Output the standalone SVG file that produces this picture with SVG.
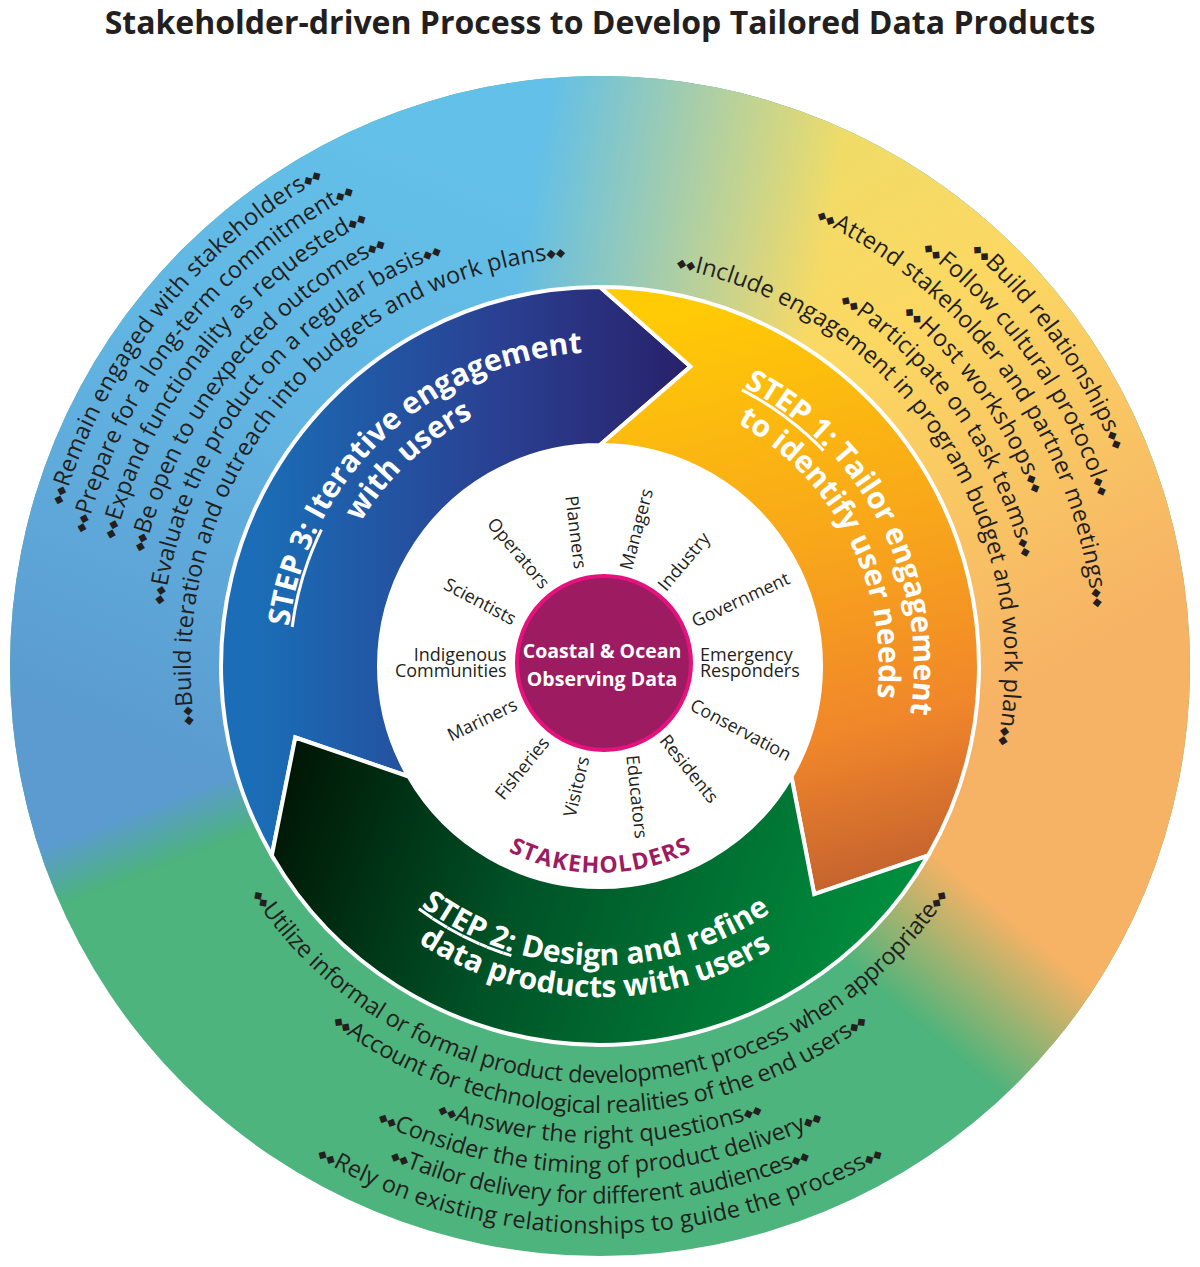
<svg xmlns="http://www.w3.org/2000/svg" width="1200" height="1267" viewBox="0 0 1200 1267">
<style>
.t{font-family:"Open Sans","Liberation Sans",sans-serif;font-size:23.5px;fill:#231f20}
.b{font-family:"DejaVu Sans",sans-serif;font-size:12px}
.st{font-family:"Open Sans","Liberation Sans",sans-serif;font-weight:700;font-size:30px;fill:#fff}
.lab{font-family:"Open Sans","Liberation Sans",sans-serif;font-size:18px;fill:#231f20}
.arrow{stroke:#fff;stroke-width:4;stroke-linejoin:miter}
</style>
<defs>
<linearGradient id="gBlue" gradientUnits="userSpaceOnUse" x1="400" y1="150" x2="150" y2="750"><stop offset="0" stop-color="#63c0e8"/><stop offset="0.45" stop-color="#61b4e2"/><stop offset="1" stop-color="#5b9bcf"/></linearGradient>
<linearGradient id="gYel" gradientUnits="userSpaceOnUse" x1="800" y1="150" x2="1100" y2="650"><stop offset="0" stop-color="#efdc68"/><stop offset="0.35" stop-color="#fcd862"/><stop offset="1" stop-color="#f6b265"/></linearGradient>
<linearGradient id="gmBlue" gradientUnits="userSpaceOnUse" x1="610.8" y1="694" x2="589.2" y2="638"><stop offset="0" stop-color="#000"/><stop offset="1" stop-color="#fff"/></linearGradient>
<linearGradient id="gmY1" gradientUnits="userSpaceOnUse" x1="555" y1="719.6" x2="645" y2="612.4"><stop offset="0" stop-color="#000"/><stop offset="1" stop-color="#fff"/></linearGradient>
<linearGradient id="gmY2" gradientUnits="userSpaceOnUse" x1="452.3" y1="640" x2="747.7" y2="692"><stop offset="0" stop-color="#000"/><stop offset="1" stop-color="#fff"/></linearGradient>
<mask id="mBlue" maskUnits="userSpaceOnUse" x="0" y="0" width="1200" height="1267"><rect width="1200" height="1267" fill="url(#gmBlue)"/></mask>
<mask id="mY1" maskUnits="userSpaceOnUse" x="0" y="0" width="1200" height="1267"><rect width="1200" height="1267" fill="url(#gmY1)"/></mask>
<mask id="mY2" maskUnits="userSpaceOnUse" x="0" y="0" width="1200" height="1267"><rect width="1200" height="1267" fill="url(#gmY2)"/></mask>
<linearGradient id="gStep3" gradientUnits="userSpaceOnUse" x1="260" y1="600" x2="690" y2="600"><stop offset="0" stop-color="#1a6db6"/><stop offset="0.55" stop-color="#2a4092"/><stop offset="1" stop-color="#28216a"/></linearGradient>
<linearGradient id="gStep1" gradientUnits="userSpaceOnUse" x1="700" y1="300" x2="850" y2="890"><stop offset="0" stop-color="#ffcb05"/><stop offset="0.45" stop-color="#f8a51b"/><stop offset="0.75" stop-color="#f0862a"/><stop offset="1" stop-color="#c4622f"/></linearGradient>
<linearGradient id="gStep2" gradientUnits="userSpaceOnUse" x1="300" y1="740" x2="900" y2="960"><stop offset="0" stop-color="#001705"/><stop offset="0.4" stop-color="#005227"/><stop offset="1" stop-color="#00923f"/></linearGradient>
<path id="p1a" d="M213.8,1072.9 A561,561 0 0 1 909.6,198.2"/>
<path id="p1b" d="M234.5,1051.2 A531,531 0 0 1 893.1,223.2"/>
<path id="p1c" d="M255.1,1029.4 A501,501 0 0 1 876.5,248.2"/>
<path id="p1d" d="M276.5,1006.9 A470,470 0 0 1 859.4,274.1"/>
<path id="p1e" d="M297.1,985.2 A440,440 0 0 1 842.8,299.1"/>
<path id="p1f" d="M318.4,962.7 A409,409 0 0 1 825.7,324.9"/>
<path id="p2a" d="M317.3,186.1 A557,557 0 0 1 961.7,1089.5"/>
<path id="p2b" d="M333.1,212.8 A526,526 0 0 1 941.6,1066"/>
<path id="p2c" d="M348.3,238.6 A496,496 0 0 1 922.1,1043.2"/>
<path id="p2d" d="M364,265.4 A465,465 0 0 1 902,1019.6"/>
<path id="p2e" d="M379.2,291.2 A435,435 0 0 1 882.5,996.8"/>
<path id="p2f" d="M403.7,311.8 A405,405 0 0 1 854.9,980.7"/>
<path id="p3a" d="M184.6,702.4 A417,417 0 0 0 1015.4,702.4"/>
<path id="p3b" d="M154.7,705 A447,447 0 0 0 1045.3,705"/>
<path id="p3c" d="M124.8,707.6 A477,477 0 0 0 1075.2,707.6"/>
<path id="p3d" d="M94.9,710.2 A507,507 0 0 0 1105.1,710.2"/>
<path id="p3e" d="M65,712.8 A537,537 0 0 0 1135,712.8"/>
<path id="p3f" d="M35.1,715.4 A567,567 0 0 0 1164.9,715.4"/>
<path id="s3a" d="M352.6,859.3 A314,314 0 0 1 810.1,432.7"/>
<path id="s3b" d="M380.1,837.8 A279,279 0 0 1 786.7,458.7"/>
<path id="s1a" d="M482.4,374.9 A314,314 0 0 1 766.4,932.3"/>
<path id="s1b" d="M495.5,407.3 A279,279 0 0 1 747.8,902.6"/>
<path id="s2a" d="M301.7,686.9 A299,299 0 0 0 897.4,697.2"/>
<path id="s2b" d="M269.8,689.1 A331,331 0 0 0 929.2,700.6"/>
<path id="stk" d="M393.8,684.1 A207,207 0 0 0 806.2,684.1"/>
</defs>
<rect width="1200" height="1267" fill="#fff"/>
<text x="600" y="34" text-anchor="middle" font-family="'Open Sans','Liberation Sans',sans-serif" font-weight="700" font-size="32" fill="#231f20">Stakeholder-driven Process to Develop Tailored Data Products</text>

<g id="outer-ring">
<circle cx="600" cy="666" r="590" fill="#4cb47c"/>
<circle cx="600" cy="666" r="590" fill="url(#gBlue)" mask="url(#mBlue)"/>
<g mask="url(#mY1)"><circle cx="600" cy="666" r="590" fill="url(#gYel)" mask="url(#mY2)"/></g>
</g>

<g id="step3-actions">
<text class="t" text-anchor="middle"><textPath href="#p1a" startOffset="50%" textLength="429"><tspan class="b" dy="-2">◆◆</tspan><tspan dy="2">Remain engaged with stakeholders</tspan><tspan class="b" dy="-2">◆◆</tspan></textPath></text>
<text class="t" text-anchor="middle"><textPath href="#p1b" startOffset="50%" textLength="446"><tspan class="b" dy="-2">◆◆</tspan><tspan dy="2">Prepare for a long-term commitment</tspan><tspan class="b" dy="-2">◆◆</tspan></textPath></text>
<text class="t" text-anchor="middle"><textPath href="#p1c" startOffset="50%" textLength="418"><tspan class="b" dy="-2">◆◆</tspan><tspan dy="2">Expand functionality as requested</tspan><tspan class="b" dy="-2">◆◆</tspan></textPath></text>
<text class="t" text-anchor="middle"><textPath href="#p1d" startOffset="50%" textLength="402"><tspan class="b" dy="-2">◆◆</tspan><tspan dy="2">Be open to unexpected outcomes</tspan><tspan class="b" dy="-2">◆◆</tspan></textPath></text>
<text class="t" text-anchor="middle"><textPath href="#p1e" startOffset="50%" textLength="469"><tspan class="b" dy="-2">◆◆</tspan><tspan dy="2">Evaluate the product on a regular basis</tspan><tspan class="b" dy="-2">◆◆</tspan></textPath></text>
<text class="t" text-anchor="middle"><textPath href="#p1f" startOffset="50%" textLength="667"><tspan class="b" dy="-2">◆◆</tspan><tspan dy="2">Build iteration and outreach into budgets and work plans</tspan><tspan class="b" dy="-2">◆◆</tspan></textPath></text>
</g>

<g id="step1-actions">
<text class="t" text-anchor="middle"><textPath href="#p2a" startOffset="50%" textLength="248"><tspan class="b" dy="-2">◆◆</tspan><tspan dy="2">Build relationships</tspan><tspan class="b" dy="-2">◆◆</tspan></textPath></text>
<text class="t" text-anchor="middle"><textPath href="#p2b" startOffset="50%" textLength="308"><tspan class="b" dy="-2">◆◆</tspan><tspan dy="2">Follow cultural protocol</tspan><tspan class="b" dy="-2">◆◆</tspan></textPath></text>
<text class="t" text-anchor="middle"><textPath href="#p2c" startOffset="50%" textLength="498"><tspan class="b" dy="-2">◆◆</tspan><tspan dy="2">Attend stakeholder and partner meetings</tspan><tspan class="b" dy="-2">◆◆</tspan></textPath></text>
<text class="t" text-anchor="middle"><textPath href="#p2d" startOffset="50%" textLength="225"><tspan class="b" dy="-2">◆◆</tspan><tspan dy="2">Host workshops</tspan><tspan class="b" dy="-2">◆◆</tspan></textPath></text>
<text class="t" text-anchor="middle"><textPath href="#p2e" startOffset="50%" textLength="321"><tspan class="b" dy="-2">◆◆</tspan><tspan dy="2">Participate on task teams</tspan><tspan class="b" dy="-2">◆◆</tspan></textPath></text>
<text class="t" text-anchor="middle"><textPath href="#p2f" startOffset="50%" textLength="638"><tspan class="b" dy="-2">◆◆</tspan><tspan dy="2">Include engagement in program budget and work plan</tspan><tspan class="b" dy="-2">◆◆</tspan></textPath></text>
</g>

<g id="step2-actions">
<text class="t" text-anchor="middle"><textPath href="#p3a" startOffset="50%" textLength="825"><tspan class="b" dy="-2">◆◆</tspan><tspan dy="2">Utilize informal or formal product development process when appropriate</tspan><tspan class="b" dy="-2">◆◆</tspan></textPath></text>
<text class="t" text-anchor="middle"><textPath href="#p3b" startOffset="50%" textLength="575"><tspan class="b" dy="-2">◆◆</tspan><tspan dy="2">Account for technological realities of the end users</tspan><tspan class="b" dy="-2">◆◆</tspan></textPath></text>
<text class="t" text-anchor="middle"><textPath href="#p3c" startOffset="50%" textLength="333"><tspan class="b" dy="-2">◆◆</tspan><tspan dy="2">Answer the right questions</tspan><tspan class="b" dy="-2">◆◆</tspan></textPath></text>
<text class="t" text-anchor="middle"><textPath href="#p3d" startOffset="50%" textLength="462"><tspan class="b" dy="-2">◆◆</tspan><tspan dy="2">Consider the timing of product delivery</tspan><tspan class="b" dy="-2">◆◆</tspan></textPath></text>
<text class="t" text-anchor="middle"><textPath href="#p3e" startOffset="50%" textLength="433"><tspan class="b" dy="-2">◆◆</tspan><tspan dy="2">Tailor delivery for different audiences</tspan><tspan class="b" dy="-2">◆◆</tspan></textPath></text>
<text class="t" text-anchor="middle"><textPath href="#p3f" startOffset="50%" textLength="595"><tspan class="b" dy="-2">◆◆</tspan><tspan dy="2">Rely on existing relationships to guide the process</tspan><tspan class="b" dy="-2">◆◆</tspan></textPath></text>
</g>

<g id="step3">
<path class="arrow" fill="url(#gStep3)" d="M271.8,855.5 A379,379 0 0 1 600,287 L690.5,366.4 L600,445 A221,221 0 0 0 408.6,776.5 L295.3,737.5 Z"/>
<text class="st" text-anchor="middle"><textPath href="#s3a" startOffset="50%"><tspan text-decoration="underline">STEP 3:</tspan> Iterative engagement</textPath></text>
<text class="st" text-anchor="middle"><textPath href="#s3b" startOffset="50%">with users</textPath></text>
</g>
<g id="step1">
<path class="arrow" fill="url(#gStep1)" d="M600,287 A379,379 0 0 1 928.2,855.5 L814.2,894.2 L791.4,776.5 A221,221 0 0 0 600,445 L690.5,366.4 Z"/>
<text class="st" text-anchor="middle"><textPath href="#s1a" startOffset="50%"><tspan text-decoration="underline">STEP 1:</tspan> Tailor engagement</textPath></text>
<text class="st" text-anchor="middle"><textPath href="#s1b" startOffset="50%">to identify user needs</textPath></text>
</g>
<g id="step2">
<path class="arrow" fill="url(#gStep2)" d="M928.2,855.5 A379,379 0 0 1 271.8,855.5 L295.3,737.5 L408.6,776.5 A221,221 0 0 0 791.4,776.5 L814.2,894.2 Z"/>
<text class="st" text-anchor="middle"><textPath href="#s2a" startOffset="50%"><tspan text-decoration="underline">STEP 2:</tspan> Design and refine</textPath></text>
<text class="st" text-anchor="middle"><textPath href="#s2b" startOffset="50%">data products with users</textPath></text>
</g>

<g id="stakeholders">
<circle cx="600" cy="666" r="221" fill="#fff"/>
<text class="lab" text-anchor="middle" dy="6" transform="translate(518.3,553.3) rotate(50)">Operators</text>
<text class="lab" text-anchor="middle" dy="6" transform="translate(575.7,532.3) rotate(83)">Planners</text>
<text class="lab" text-anchor="middle" dy="6" transform="translate(636.7,529.3) rotate(-75)">Managers</text>
<text class="lab" text-anchor="middle" dy="6" transform="translate(684,561.7) rotate(-50)">Industry</text>
<text class="lab" text-anchor="middle" dy="6" transform="translate(740.7,600) rotate(-25)">Government</text>
<text class="lab" x="700" y="660.5">Emergency</text>
<text class="lab" x="700" y="677.3">Responders</text>
<text class="lab" text-anchor="middle" dy="6" transform="translate(740.7,730) rotate(28)">Conservation</text>
<text class="lab" text-anchor="middle" dy="6" transform="translate(689,769) rotate(51)">Residents</text>
<text class="lab" text-anchor="middle" dy="6" transform="translate(636.7,796.7) rotate(84)">Educators</text>
<text class="lab" text-anchor="middle" dy="6" transform="translate(576.7,786.7) rotate(-77)">Visitors</text>
<text class="lab" text-anchor="middle" dy="6" transform="translate(522.3,768.3) rotate(-51)">Fisheries</text>
<text class="lab" text-anchor="middle" dy="6" transform="translate(482.3,720) rotate(-26)">Mariners</text>
<text class="lab" x="506.7" y="660.5" text-anchor="end">Indigenous</text>
<text class="lab" x="506.7" y="677.3" text-anchor="end">Communities</text>
<text class="lab" text-anchor="middle" dy="6" transform="translate(480,601.7) rotate(28)">Scientists</text>
<text text-anchor="middle" font-family="'Open Sans','Liberation Sans',sans-serif" font-weight="700" font-size="23" fill="#9d1c61"><textPath href="#stk" startOffset="50%" textLength="190">STAKEHOLDERS</textPath></text>
</g>

<g id="center">
<circle cx="604" cy="663" r="87" fill="#9d1c61" stroke="#e5127d" stroke-width="4"/>
<text x="602" y="658" text-anchor="middle" font-family="'Open Sans','Liberation Sans',sans-serif" font-weight="700" font-size="19.5" fill="#fff">Coastal &amp; Ocean</text>
<text x="602" y="686" text-anchor="middle" font-family="'Open Sans','Liberation Sans',sans-serif" font-weight="700" font-size="19.5" fill="#fff">Observing Data</text>
</g>
</svg>
